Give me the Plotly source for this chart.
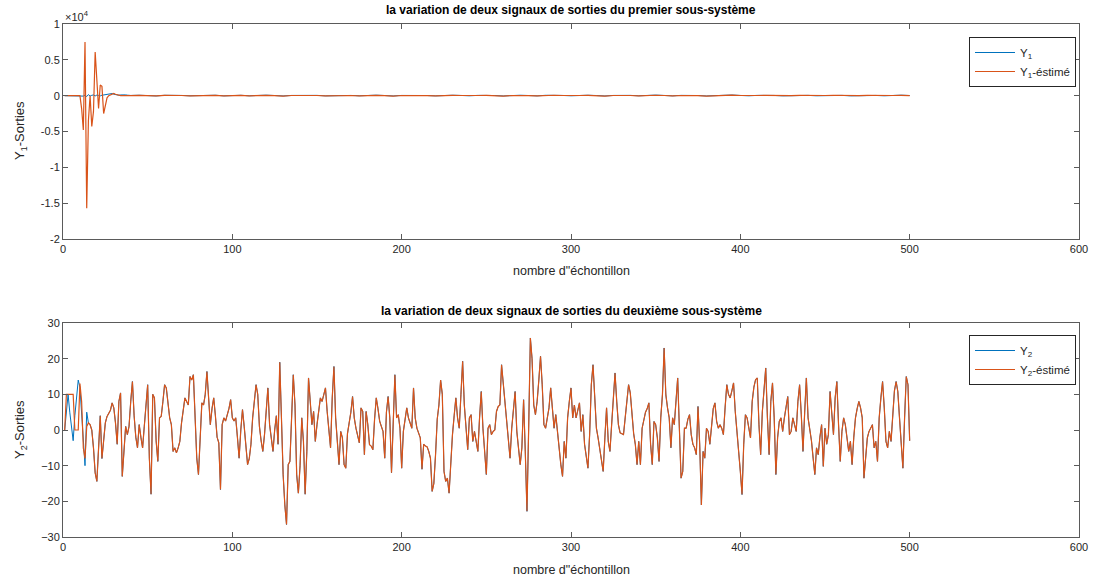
import plotly.graph_objects as go

# ---------------- data ----------------
n_samples = 500
x2 = list(range(1, n_samples + 1))

# second sub-system: measured output Y2 (blue)
y2 = [
    0, 5, 10, 5, 1, -3, 4, 9, 14, 12,
    4, -4, -10, 5, 2, 1.5, 0, -5, -12, -14.4,
    -3, 4, -8, -2, 2, 3.8, 4.5, 5.5, 7.6, 6.2,
    2, -4, 8, 10.4, -13, -6, 1, -1.3, 1, 8,
    13.6, 4, -2, -5, 1.5, -2, -5, 1, 7, 12.7,
    -8, -18, 10, 9, -3, -8.8, 3.4, 3.8, 8, 12.7,
    11.8, 7, 3.4, 1.5, -6, -5, -6.4, -5, -3.2, 2,
    6, 9, 8, 7, 15, 14, 15.5, 1.5, -7.9, -12.5,
    -2, 7.6, 7, 10, 16.4, 9.9, 1.5, 6, 9, 4,
    -2, -3.6, -16.7, 1.5, 3.4, 2.5, 4, 6, 8.5, 3.4,
    2.5, 3.4, -2, -7.9, 0, 5.7, 1, -4, -9.7, -8,
    -4, 3.4, 8, 12.7, 10, 1, -3, -6, -1.3, 6,
    11.8, 1.5, -3, -6, 0, 4, -4, 19, 3.4, -12.5,
    -21, -26.5, -9.7, -8.8, 3.4, 15.5, 7, -12.5, -17.7, -10,
    3.4, -3.2, -18, -6, 14.6, 9, 1.5, 5.2, -3.2, 1.5,
    5, 9, 8, 10, 11.8, 5.2, 0.5, -5, 9, 17.8,
    3.4, -5, -9.7, -0.4, -2.2, -9.7, -10.7, -1, 1.5, 5,
    9.4, 3.4, 0.5, -2, -3.6, 6.2, 5.2, -6.9, 5.2, 1.5,
    -4.1, -4.5, -5.5, 3, 9, 6, 2.5, 1, -0.4, -7.9,
    5, 9.4, 3.4, -12, 4, 15.5, 3.4, 4.3, 0.5, -10.7,
    -0.4, 3, 6.2, 3.4, 2, 0.5, 11.8, 3.4, 0.5, -1,
    -2.2, -11, -4, -4.5, -4.7, -6, -7.9, -17.2, -15, -7,
    3, 7, 14, 10, -11.6, -14.4, -13.5, -17.7, -7.9, -1.3,
    4, 9, 3.4, 0.5, 9.9, 19.3, 7, 0.5, -5.5, 3.4,
    4.3, -3.2, -0.4, -3.2, -6, 3.4, 10.8, 0.5, -5, -12.5,
    0.5, 1.5, -1.3, -0.4, 0, 5.2, 6.6, 7, 18.3, 12.7,
    9, 1.5, -3, -7.9, 0.5, 5, 10.8, -0.4, -5, -9.7,
    -5, 8.5, -6, -22.8, 0.5, 25.8, 20, 7, 4.3, 8,
    14, 20.7, 12.7, 1.5, 0.5, 3.4, 6.2, 11.8, 7, 0.5,
    4.3, -1, -4.1, -9.7, -13, -3.2, -7.9, 3.4, 8, 11.8,
    3.4, 7, 3.4, 5.5, 7.6, -0.4, 4.3, -4, -8, -10.7,
    -1.3, 12.7, 18.3, 8, 0.5, -2.2, -5, -7.9, -11.6, -2.2,
    6.2, -3.2, -6, 1.5, 8, 16, 8, 1.5, -0.8, -1,
    -1.3, 3.4, 8, 12.7, 10.4, 3.4, -1, -4.1, -9.7, -3.2,
    -9.7, 0.5, 2.4, 5, 6, 7.6, -4, -9.7, 2.4, 1.5,
    -2.2, -8.8, 3.4, 9.9, 23, 9.9, 6.2, 3.4, -5, 3.4,
    1.5, 7, 14.6, 0.5, -13.5, -11.6, 0.5, 0.5, 3, 4.3,
    -1.3, -4, -5, -6.9, 6.6, -4, -21, -6, -7.9, 0.5,
    -0.4, -4, 2, 6, 7.6, 2.4, 0.5, 1.5, 0.5, -1.3,
    6.2, 12.7, 10, 9, 11, 13.2, 5.2, 0.5, -6, -11.6,
    -18.1, -4, 4.3, 3.4, 0, -2.2, 8, 12, 14.1, 14.6,
    1.5, -6.9, 5.2, 12, 17.4, 3.4, -6.9, 8, 13.2, 3.4,
    -12.5, -2.2, 2.4, 3.4, -0.4, 3.4, 6, 9.4, -1.3, -0.4,
    3.4, 1.5, -0.4, 8, 12.7, 4.3, -6, 5, 14.6, 3.4,
    0.5, -3, -7.9, -12.5, -5, -6.9, -2, 1.5, -10.2, 0.5,
    -4, -1.3, 10.8, 3.4, -1.3, 9, 13.6, 1.5, -8.8, -0.4,
    3.4, 1.5, -2.2, -6, -3.2, -9.7, -2, 3.4, 6, 8,
    6.2, 3.4, -13.5, -7.9, -2.2, -0.4, 0.5, 1.5, -5, -3.2,
    -8.8, 3.4, 9, 13.6, 6.2, -3.2, -5, -0.4, -3.2, 5.2,
    11, 13.6, 10.8, 3.4, -3.2, -10.7, 3.4, 15, 12.7, -3,
]

# estimated Y2 (orange): differs only during the first 20 samples
y2_est_start = [
    0, 10, 10, 10, 10, 10, 0, 0, 0, 13,
    8, -5, -8, 1, 2, 1.5, 0, -5, -12, -14.4,
]
y2_est = y2_est_start + y2[20:]

# first sub-system (raw units, axis shown x10^4)
x1 = list(range(1, 41)) + list(range(45, 501, 5))
y1 = [
    0, 0, 0, 0, 0, 0, 0, 0, 0, 0,
    0, -60, 80, -120, 150, -60, 50, 100, -40, 80,
    30, -30, 60, 100, 150, 200, 260, 320, 300, 200,
    120, 80, 60, 100, 130, 150, 110, 70, 50, 30,
    60, 20, -40, 50, 80, 30, -20, 40, 90, 60,
    -30, 20, 50, -20, 40, 70, 20, -40, 30, 60,
    90, 40, -30, 20, 60, 30, -20, 40, 70, 20,
    -40, 30, 50, 80, 20, -30, 40, 60, 30, -20,
    40, 70, 20, -40, 30, 60, 20, -30, 50, 80,
    30, -20, 40, 60, 20, -40, 30, 70, 40, -20,
    50, 80, 30, -30, 40, 60, 20, -40, 30, 60,
    90, 30, -20, 40, 70, 30, -30, 20, 60, 40,
    -20, 30, 80, 40, -30, 20, 60, 30, -20, 40,
    70, 20,
]
y1_est = [
    0, 0, 0, 0, 0, 0, 0, 0, 0, 0,
    -1800, -4800, 7500, -15700, -3500, 0, -4300, -2200, 6100, 1300,
    -1800, 1500, 1300, -2500, -1100, -300, 0, 100, 200, 300,
    200, 100, 50, 0, 20, 0, -20, 0, 30, 0,
    40, 0, -40, 30, 60, 20, -30, 20, 70, 40,
    -40, 0, 30, -30, 20, 50, 0, -50, 20, 40,
    70, 20, -40, 0, 40, 20, -30, 20, 50, 0,
    -50, 20, 30, 60, 0, -40, 20, 40, 20, -30,
    20, 50, 0, -50, 20, 40, 0, -40, 30, 60,
    20, -30, 20, 40, 0, -50, 20, 50, 20, -30,
    30, 60, 20, -40, 20, 40, 0, -50, 20, 40,
    70, 20, -30, 20, 50, 20, -40, 0, 40, 20,
    -30, 20, 60, 20, -40, 0, 40, 20, -30, 20,
    50, 0,
]

y1_tickvals = [-20000, -15000, -10000, -5000, 0, 5000, 10000]
y1_ticktext = ["-2", "-1.5", "-1", "-0.5", "0", "0.5", "1"]
y2_tickvals = [-30, -20, -10, 0, 10, 20, 30]
x_tickvals = [0, 100, 200, 300, 400, 500, 600]

# ---------------- styling ----------------
BLUE = "#0072BD"
ORANGE = "#D95319"
FONT = "Liberation Sans, Arial, sans-serif"
AXC = "#5a5a5a"
TXT = "#262626"

fig = go.Figure()
fig.add_trace(go.Scatter(x=x1, y=y1, mode="lines", name="Y<sub>1</sub>",
                         line=dict(color=BLUE, width=1), xaxis="x", yaxis="y",
                         legend="legend"))
fig.add_trace(go.Scatter(x=x1, y=y1_est, mode="lines", name="Y<sub>1</sub>-éstimé",
                         line=dict(color=ORANGE, width=1.2), xaxis="x", yaxis="y",
                         legend="legend"))
fig.add_trace(go.Scatter(x=x2, y=y2, mode="lines", name="Y<sub>2</sub>",
                         line=dict(color=BLUE, width=1), xaxis="x2", yaxis="y2",
                         legend="legend2"))
fig.add_trace(go.Scatter(x=x2, y=y2_est, mode="lines", name="Y<sub>2</sub>-éstimé",
                         line=dict(color=ORANGE, width=1.2), xaxis="x2", yaxis="y2",
                         legend="legend2"))

axis_common = dict(showline=True, linecolor=AXC, linewidth=1, mirror="ticks",
                   ticks="inside", ticklen=5, tickcolor=AXC, showgrid=False,
                   zeroline=False, tickfont=dict(family=FONT, size=11, color=TXT))

top_dom = [(537 - 239) / 513, 1.0]
bot_dom = [0.0, (537 - 323) / 513]

fig.update_layout(
    width=1099, height=581,
    margin=dict(l=63, r=20, t=24, b=44),
    paper_bgcolor="white", plot_bgcolor="white",
    font=dict(family=FONT, color=TXT),
    xaxis=dict(domain=[0, 1], range=[0, 600], tickvals=x_tickvals, anchor="y", **axis_common),
    yaxis=dict(domain=top_dom, range=[-20000, 10000], tickvals=y1_tickvals,
               ticktext=y1_ticktext, anchor="x", **axis_common),
    xaxis2=dict(domain=[0, 1], range=[0, 600], tickvals=x_tickvals, anchor="y2", **axis_common),
    yaxis2=dict(domain=bot_dom, range=[-30, 30], tickvals=y2_tickvals, anchor="x2", **axis_common),
    legend=dict(x=(1076 - 63) / 1016, y=(537 - 37) / 513, xanchor="right", yanchor="top",
                bordercolor=TXT, borderwidth=1, bgcolor="white",
                font=dict(family=FONT, size=11.5, color=TXT), itemwidth=40,
                tracegroupgap=0),
    legend2=dict(x=(1076 - 63) / 1016, y=(537 - 335) / 513, xanchor="right", yanchor="top",
                 bordercolor=TXT, borderwidth=1, bgcolor="white",
                 font=dict(family=FONT, size=11.5, color=TXT), itemwidth=40,
                 tracegroupgap=0),
    showlegend=True,
)

ann = [
    dict(text="<b>la variation de deux signaux de sorties du premier sous-système</b>",
         x=0.5, y=(537 - 10) / 513, font=dict(size=12, color="#000")),
    dict(text="<b>la variation de deux signaux de sorties du deuxième sous-système</b>",
         x=0.5, y=(537 - 311) / 513, font=dict(size=12, color="#000")),
    dict(text="nombre d\"échontillon", x=0.5, y=(537 - 271) / 513, font=dict(size=12.5, color=TXT)),
    dict(text="nombre d\"échontillon", x=0.5, y=(537 - 570) / 513, font=dict(size=12.5, color=TXT)),
    dict(text="Y<sub>1</sub>-Sorties", x=(20 - 63) / 1016, y=(537 - 131) / 513, textangle=-90,
         font=dict(size=13, color=TXT)),
    dict(text="Y<sub>2</sub>-Sorties", x=(20 - 63) / 1016, y=(537 - 430) / 513, textangle=-90,
         font=dict(size=13, color=TXT)),
    dict(text="×10<sup>4</sup>", x=0.0, y=(537 - 16) / 513, xanchor="left",
         font=dict(size=11, color=TXT)),
]
for a in ann:
    a.setdefault("xanchor", "center")
    a.update(xref="paper", yref="paper", yanchor="middle", showarrow=False)
    a["font"]["family"] = FONT
fig.update_layout(annotations=ann)

fig.write_html("out.html", config={"displayModeBar": False},
               post_script="document.body.style.margin='0px';document.body.style.overflow='hidden';")
